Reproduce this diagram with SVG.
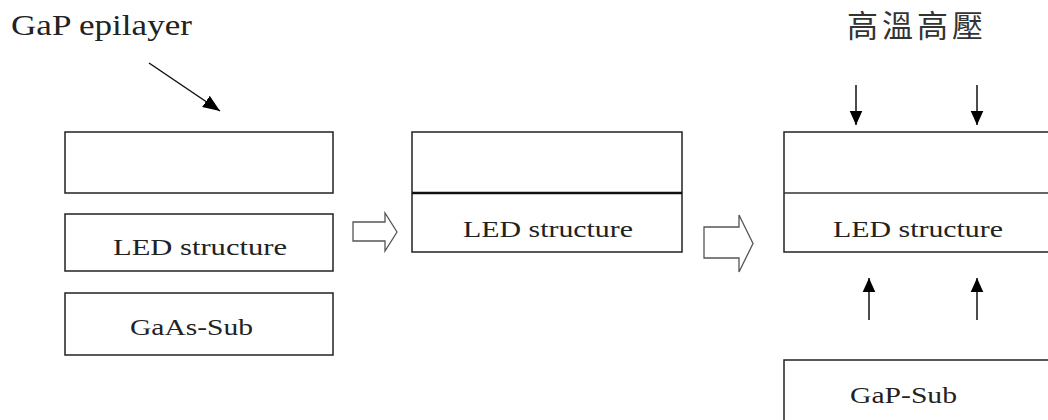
<svg xmlns="http://www.w3.org/2000/svg" width="1048" height="420" viewBox="0 0 1048 420">
<style>
.box{fill:#fff;stroke:#222;stroke-width:1.5}
.t{font-family:"Liberation Serif","Times New Roman",serif;fill:#222}
.blk{fill:#fff;stroke:#555;stroke-width:1.3;stroke-linejoin:miter}
.ln{stroke:#111;stroke-width:1.5;fill:none}
</style>
<defs>
<marker id="ah" viewBox="0 0 10 10" refX="10" refY="5" markerWidth="14" markerHeight="14" markerUnits="userSpaceOnUse" orient="auto">
<path d="M0,0.5 L10,5 L0,9.5 Z" fill="#000"/>
</marker>
<marker id="ah2" viewBox="0 0 10 10" refX="10" refY="5" markerWidth="17" markerHeight="17" markerUnits="userSpaceOnUse" orient="auto">
<path d="M0,1 L10,5 L0,9 Z" fill="#000"/>
</marker>
</defs>
<rect width="1048" height="420" fill="#fff"/>
<g id="label-gap-epilayer">
<text class="t" x="11" y="35" font-size="30" textLength="181" lengthAdjust="spacingAndGlyphs">GaP epilayer</text>
</g>
<g id="label-hthp">
<text x="847" y="37" font-size="31" font-family="'Noto Sans CJK TC','Noto Sans CJK SC',sans-serif" fill="#333" textLength="136" lengthAdjust="spacing">高溫高壓</text>
</g>
<g id="left-epilayer"><rect class="box" x="65" y="132" width="268" height="61"/></g>
<g id="left-led"><rect class="box" x="65" y="214" width="268" height="57"/>
<text class="t" x="113" y="255" font-size="24" textLength="174" lengthAdjust="spacingAndGlyphs">LED structure</text></g>
<g id="left-gaas"><rect class="box" x="65" y="293" width="268" height="62"/>
<text class="t" x="130" y="335" font-size="24" textLength="123" lengthAdjust="spacingAndGlyphs">GaAs-Sub</text></g>
<g id="mid-stack"><rect class="box" x="412" y="132" width="270" height="120"/>
<line x1="412" y1="193" x2="682" y2="193" stroke="#111" stroke-width="2.5"/>
<text class="t" x="463" y="237" font-size="24" textLength="170" lengthAdjust="spacingAndGlyphs">LED structure</text></g>
<g id="right-stack"><rect class="box" x="784" y="132" width="280" height="120"/>
<line x1="784" y1="193" x2="1048" y2="193" stroke="#333" stroke-width="1.5"/>
<text class="t" x="833" y="237" font-size="24" textLength="170" lengthAdjust="spacingAndGlyphs">LED structure</text></g>
<g id="right-gap-sub"><rect class="box" x="784" y="360" width="280" height="80"/>
<text class="t" x="850" y="403" font-size="24" textLength="107" lengthAdjust="spacingAndGlyphs">GaP-Sub</text></g>
<g id="connectors">
<line class="ln" x1="149" y1="63" x2="220" y2="111" marker-end="url(#ah2)"/>
<path class="blk" d="M353,222 L385,222 L385,213 L397,232 L385,251 L385,241 L353,241 Z"/>
<path class="blk" d="M704,227 L739,227 L739,215 L753,243.5 L739,272 L739,258 L704,258 Z"/>
<line class="ln" x1="856" y1="85" x2="856" y2="125" marker-end="url(#ah)"/>
<line class="ln" x1="977" y1="85" x2="977" y2="125" marker-end="url(#ah)" stroke="#444"/>
<line class="ln" x1="869" y1="320" x2="869" y2="278" marker-end="url(#ah)"/>
<line class="ln" x1="977" y1="320" x2="977" y2="278" marker-end="url(#ah)" stroke="#555"/>
</g>
</svg>
